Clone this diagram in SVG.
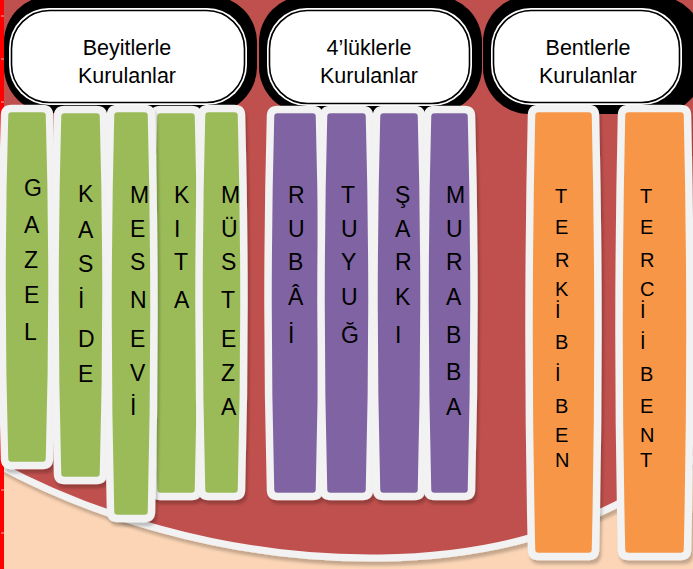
<svg xmlns="http://www.w3.org/2000/svg" width="693" height="569" viewBox="0 0 693 569">
<defs>
<filter id="sh" x="-30%" y="-10%" width="160%" height="130%">
<feDropShadow dx="2" dy="4" stdDeviation="1.5" flood-color="#000" flood-opacity="0.22"/>
</filter>
</defs>
<style>
.bg{fill:#FBD5B5}
.red{fill:#C0504D}
.arc{fill:none;stroke:#F2F2F2;stroke-width:7;filter:url(#sh)}
.strip{fill:#FF0000}
.tick{stroke:#F6B4B4;stroke-width:1}
.hb{fill:#000}
.hw{fill:#FFF}
.hl{fill:#FFF;stroke:#000;stroke-width:1.6}
.ht{font-family:"Liberation Sans",Arial,sans-serif;font-size:21.5px;fill:#000;text-anchor:middle}
.col{stroke:#F2F2F2;stroke-width:7.5;filter:url(#sh)}
.g{fill:#9BBB59}
.p{fill:#8064A2}
.o{fill:#F79646}
.lt{font-family:"Liberation Sans",Arial,sans-serif;font-size:23px;fill:#000}
.lo{font-family:"Liberation Sans",Arial,sans-serif;font-size:20px;fill:#000}
</style>
<g id="background">
<rect class="bg" x="0" y="0" width="693" height="569"/>
<path class="red" d="M -10,-10 L 710,-10 L 710,443 L 700,455 C 620,510 530,556 380,558 C 220,560 80,510 -5,463 L -10,460 Z"/>
<path class="arc" d="M 700,455 C 620,510 530,556 380,558 C 220,560 80,510 -5,463"/>
<rect class="strip" x="0" y="0" width="4" height="569"/>
<g>
<line class="tick" x1="1" y1="16" x2="4" y2="16"/>
<line class="tick" x1="1" y1="59" x2="4" y2="59"/>
<line class="tick" x1="1" y1="102" x2="4" y2="102"/>
<line class="tick" x1="1" y1="145" x2="4" y2="145"/>
<line class="tick" x1="1" y1="188" x2="4" y2="188"/>
<line class="tick" x1="1" y1="232" x2="4" y2="232"/>
<line class="tick" x1="1" y1="275" x2="4" y2="275"/>
<line class="tick" x1="1" y1="317" x2="4" y2="317"/>
<line class="tick" x1="1" y1="360" x2="4" y2="360"/>
<line class="tick" x1="1" y1="403" x2="4" y2="403"/>
<line class="tick" x1="1" y1="447" x2="4" y2="447"/>
<line class="tick" x1="1" y1="490" x2="4" y2="490"/>
<line class="tick" x1="1" y1="533" x2="4" y2="533"/>
</g>
</g>
<g id="connectors"></g>
<g id="header-beyitlerle">
<rect class="hb" x="4" y="-4" width="253" height="117" rx="46"/>
<rect class="hw" x="9" y="8" width="238" height="97" rx="40"/>
<rect class="hl" x="11.5" y="10.5" width="233" height="92" rx="38"/>
<text class="ht" x="127" y="55">Beyitlerle</text>
<text class="ht" x="127" y="83">Kurulanlar</text>
</g>
<g id="header-4luklerle">
<rect class="hb" x="259" y="-4" width="223" height="117" rx="46"/>
<rect class="hw" x="267" y="8" width="205" height="98" rx="40"/>
<rect class="hl" x="269.5" y="10.5" width="200" height="93" rx="38"/>
<text class="ht" x="369" y="55">4’lüklerle</text>
<text class="ht" x="369" y="83">Kurulanlar</text>
</g>
<g id="header-bentlerle">
<rect class="hb" x="483" y="-4" width="220" height="118" rx="46"/>
<rect class="hw" x="491" y="8" width="191" height="97" rx="40"/>
<rect class="hl" x="493.5" y="10.5" width="186" height="92" rx="38"/>
<text class="ht" x="588" y="55">Bentlerle</text>
<text class="ht" x="588" y="83">Kurulanlar</text>
</g>
<g id="col-gazel">
<path class="col g" d="M 11.5,108.5 H 42.5 Q 49.5,108.5 49.5,115.5 Q 54.5,287 49.5,458.5 Q 49.5,465.5 42.5,465.5 H 11.5 Q 4.5,465.5 4.5,458.5 Q -0.5,287 4.5,115.5 Q 4.5,108.5 11.5,108.5 Z"/>
<text class="lt" x="24" y="196">G</text><text class="lt" x="24" y="233">A</text><text class="lt" x="24" y="268">Z</text><text class="lt" x="24" y="303">E</text><text class="lt" x="24" y="340">L</text>
</g>
<g id="col-kaside">
<path class="col g" d="M 64.5,109.5 H 96.5 Q 103.5,109.5 103.5,116.5 Q 108.5,295 103.5,473.5 Q 103.5,480.5 96.5,480.5 H 64.5 Q 57.5,480.5 57.5,473.5 Q 52.5,295 57.5,116.5 Q 57.5,109.5 64.5,109.5 Z"/>
<text class="lt" x="78" y="202">K</text><text class="lt" x="78" y="238">A</text><text class="lt" x="78" y="272">S</text><text class="lt" x="78" y="308">İ</text><text class="lt" x="78" y="347">D</text><text class="lt" x="78" y="382">E</text>
</g>
<g id="col-kita">
<path class="col g" d="M 160.5,109.5 H 191.5 Q 198.5,109.5 198.5,116.5 Q 203.5,303 198.5,489.5 Q 198.5,496.5 191.5,496.5 H 160.5 Q 153.5,496.5 153.5,489.5 Q 148.5,303 153.5,116.5 Q 153.5,109.5 160.5,109.5 Z"/>
<text class="lt" x="174" y="203">K</text><text class="lt" x="174" y="237">I</text><text class="lt" x="174" y="270">T</text><text class="lt" x="174" y="308">A</text>
</g>
<g id="col-mesnevi">
<path class="col g" d="M 117.5,108.5 H 144.5 Q 151.5,108.5 151.5,115.5 Q 156.5,313.5 151.5,511.5 Q 151.5,518.5 144.5,518.5 H 117.5 Q 110.5,518.5 110.5,511.5 Q 105.5,313.5 110.5,115.5 Q 110.5,108.5 117.5,108.5 Z"/>
<text class="lt" x="130" y="203">M</text><text class="lt" x="130" y="237">E</text><text class="lt" x="130" y="270">S</text><text class="lt" x="130" y="308">N</text><text class="lt" x="130" y="347">E</text><text class="lt" x="130" y="381">V</text><text class="lt" x="130" y="415">İ</text>
</g>
<g id="col-mustezat">
<path class="col g" d="M 208.5,108.5 H 234.5 Q 241.5,108.5 241.5,115.5 Q 246.5,302.5 241.5,489.5 Q 241.5,496.5 234.5,496.5 H 208.5 Q 201.5,496.5 201.5,489.5 Q 196.5,302.5 201.5,115.5 Q 201.5,108.5 208.5,108.5 Z"/>
<text class="lt" x="221" y="203">M</text><text class="lt" x="221" y="237">Ü</text><text class="lt" x="221" y="270">S</text><text class="lt" x="221" y="308">T</text><text class="lt" x="221" y="347">E</text><text class="lt" x="221" y="381">Z</text><text class="lt" x="221" y="415">A</text>
</g>
<g id="col-rubai">
<path class="col p" d="M 277.5,109.5 H 312.5 Q 319.5,109.5 319.5,116.5 Q 324.5,303 319.5,489.5 Q 319.5,496.5 312.5,496.5 H 277.5 Q 270.5,496.5 270.5,489.5 Q 265.5,303 270.5,116.5 Q 270.5,109.5 277.5,109.5 Z"/>
<text class="lt" x="288" y="203">R</text><text class="lt" x="288" y="237">U</text><text class="lt" x="288" y="270">B</text><text class="lt" x="288" y="305">Â</text><text class="lt" x="288" y="343">İ</text>
</g>
<g id="col-tuyug">
<path class="col p" d="M 330.5,109.5 H 362.5 Q 369.5,109.5 369.5,116.5 Q 374.5,303 369.5,489.5 Q 369.5,496.5 362.5,496.5 H 330.5 Q 323.5,496.5 323.5,489.5 Q 318.5,303 323.5,116.5 Q 323.5,109.5 330.5,109.5 Z"/>
<text class="lt" x="341" y="203">T</text><text class="lt" x="341" y="237">U</text><text class="lt" x="341" y="270">Y</text><text class="lt" x="341" y="305">U</text><text class="lt" x="341" y="343">Ğ</text>
</g>
<g id="col-sarki">
<path class="col p" d="M 383.5,109.5 H 414.5 Q 421.5,109.5 421.5,116.5 Q 426.5,303 421.5,489.5 Q 421.5,496.5 414.5,496.5 H 383.5 Q 376.5,496.5 376.5,489.5 Q 371.5,303 376.5,116.5 Q 376.5,109.5 383.5,109.5 Z"/>
<text class="lt" x="395" y="203">Ş</text><text class="lt" x="395" y="237">A</text><text class="lt" x="395" y="270">R</text><text class="lt" x="395" y="305">K</text><text class="lt" x="395" y="343">I</text>
</g>
<g id="col-murabba">
<path class="col p" d="M 434.5,109.5 H 464.5 Q 471.5,109.5 471.5,116.5 Q 476.5,303 471.5,489.5 Q 471.5,496.5 464.5,496.5 H 434.5 Q 427.5,496.5 427.5,489.5 Q 422.5,303 427.5,116.5 Q 427.5,109.5 434.5,109.5 Z"/>
<text class="lt" x="446" y="203">M</text><text class="lt" x="446" y="237">U</text><text class="lt" x="446" y="270">R</text><text class="lt" x="446" y="305">A</text><text class="lt" x="446" y="343">B</text><text class="lt" x="446" y="380">B</text><text class="lt" x="446" y="415">A</text>
</g>
<g id="col-terkibibent">
<path class="col o" d="M 538.5,108.5 H 588.5 Q 595.5,108.5 595.5,115.5 Q 600.5,332.5 595.5,549.5 Q 595.5,556.5 588.5,556.5 H 538.5 Q 531.5,556.5 531.5,549.5 Q 526.5,332.5 531.5,115.5 Q 531.5,108.5 538.5,108.5 Z"/>
<text class="lo" x="555" y="203">T</text><text class="lo" x="555" y="234">E</text><text class="lo" x="555" y="267">R</text><text class="lo" x="555" y="296">K</text><text class="lo" x="555" y="318">İ</text><text class="lo" x="555" y="349">B</text><text class="lo" x="555" y="381">İ</text><text class="lo" x="555" y="413">B</text><text class="lo" x="555" y="442">E</text><text class="lo" x="555" y="467">N</text>
</g>
<g id="col-terciibent">
<path class="col o" d="M 628.5,108.5 H 680.5 Q 687.5,108.5 687.5,115.5 Q 692.5,332.5 687.5,549.5 Q 687.5,556.5 680.5,556.5 H 628.5 Q 621.5,556.5 621.5,549.5 Q 616.5,332.5 621.5,115.5 Q 621.5,108.5 628.5,108.5 Z"/>
<text class="lo" x="640" y="203">T</text><text class="lo" x="640" y="234">E</text><text class="lo" x="640" y="267">R</text><text class="lo" x="640" y="296">C</text><text class="lo" x="640" y="318">İ</text><text class="lo" x="640" y="349">İ</text><text class="lo" x="640" y="381">B</text><text class="lo" x="640" y="413">E</text><text class="lo" x="640" y="442">N</text><text class="lo" x="640" y="467">T</text>
</g>
</svg>
